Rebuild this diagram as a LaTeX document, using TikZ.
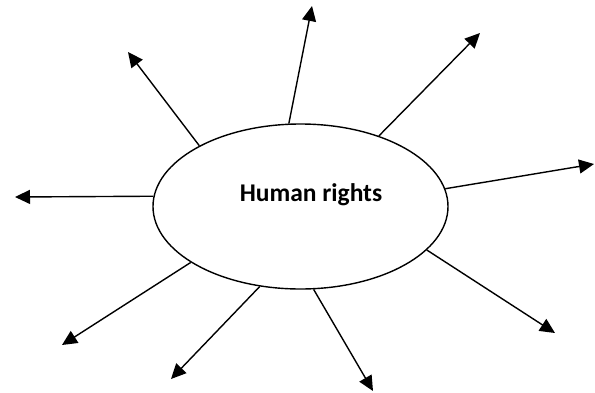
\documentclass[tikz,border=0pt]{standalone}
\usepackage{fontspec}
\setmainfont{Carlito}
\usetikzlibrary{shapes.geometric,arrows.meta}
\tikzset{
  bubble/.style={draw=black, line width=1.4pt, ellipse, minimum width=295pt, minimum height=165pt, inner sep=0pt},
  ray/.style={draw=black, line width=1.4pt, -{Triangle[length=15pt,width=14pt]}},
  title/.style={font=\bfseries\fontsize{25.5}{30}\selectfont, inner sep=0pt}
}
\begin{document}
\begin{tikzpicture}[x=1pt,y=-1pt]
\useasboundingbox (0,0) rectangle (595,392);
\node[bubble] (e) at (300.5,206.5) {};
\node[title, anchor=base] (t) at (311,201) {Human rights};
\coordinate (p1) at (312,6);
\coordinate (p2) at (480,33);
\coordinate (p3) at (594,164);
\coordinate (p4) at (555,333);
\coordinate (p5) at (373,391);
\coordinate (p6) at (171,379);
\coordinate (p7) at (62,345);
\coordinate (p8) at (15,197);
\coordinate (p9) at (128,52);
\draw[ray] (e.98.6) -- (p1);
\draw[ray] (e.42.7) -- (p2);
\draw[ray] (e.7.6) -- (p3);
\draw[ray] (e.-19.7) -- (p4);
\draw[ray] (e.-81.4) -- (p5);
\draw[ray] (e.-117.8) -- (p6);
\draw[ray] (e.-153.7) -- (p7);
\draw[ray] (e.176.3) -- (p8);
\draw[ray] (e.149) -- (p9);
\end{tikzpicture}
\end{document}
